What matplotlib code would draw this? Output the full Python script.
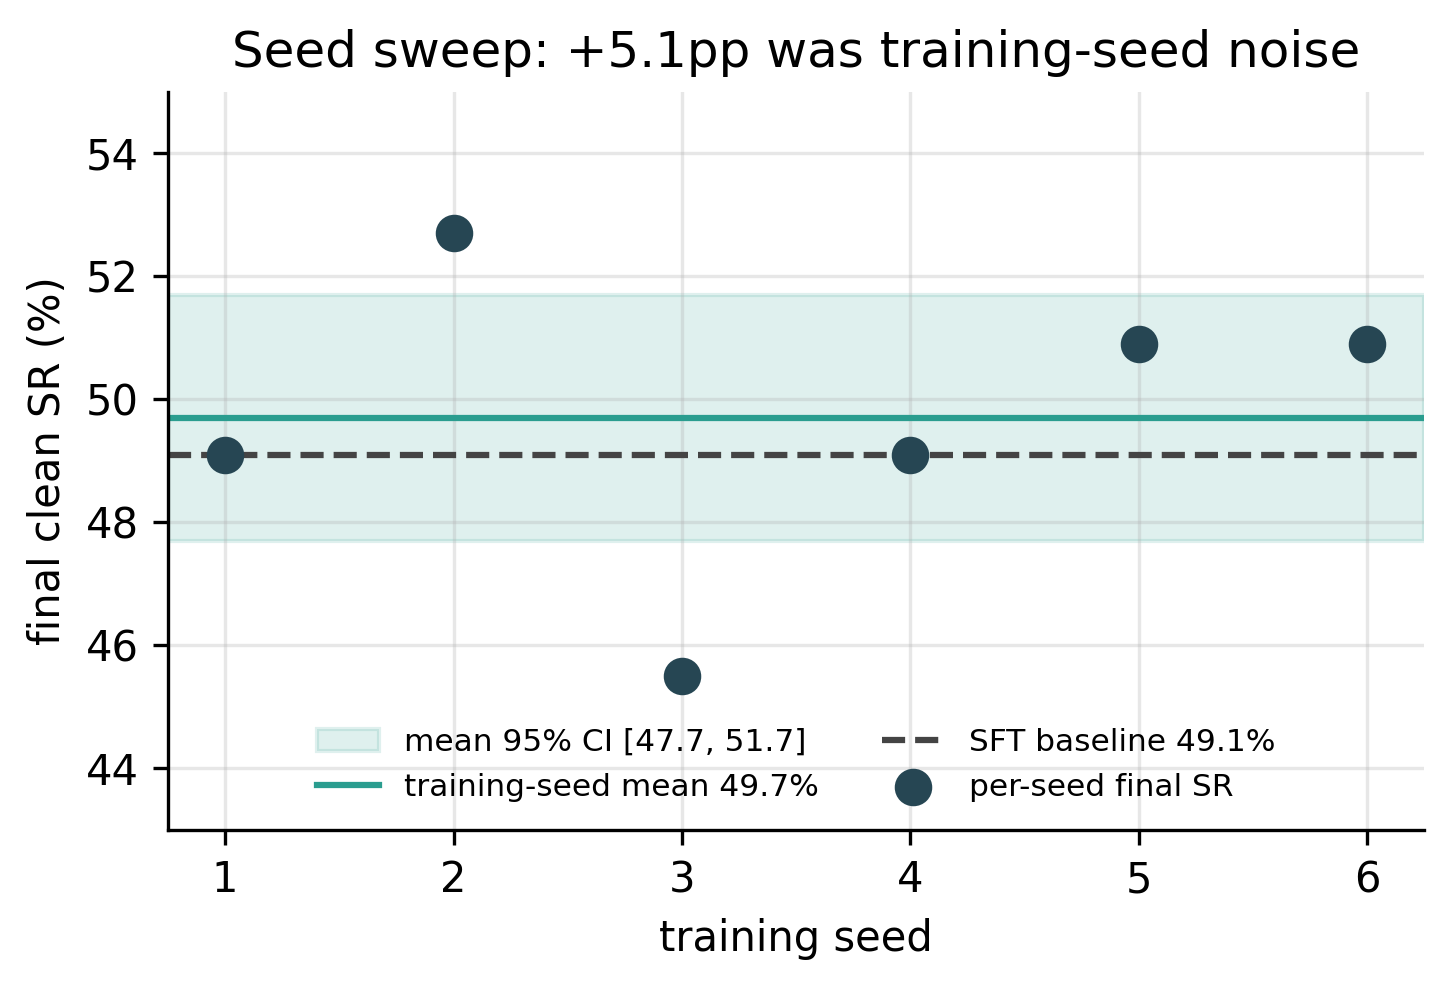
import matplotlib
matplotlib.use("Agg")
import matplotlib.pyplot as plt

# Datos: SR final por semilla de entrenamiento
seeds = [1, 2, 3, 4, 5, 6]
final_sr = [49.1, 52.7, 45.5, 49.1, 50.9, 50.9]
seed_mean = 49.7
ci_low, ci_high = 47.7, 51.7
sft_baseline = 49.1

fig, ax = plt.subplots(figsize=(4.85, 3.297), dpi=300)
fig.subplots_adjust(left=0.1155, right=0.979, top=0.907, bottom=0.161)

ax.axhspan(ci_low, ci_high, color='#2a9d8f', alpha=0.15,
           label=f'mean 95% CI [{ci_low}, {ci_high}]')
ax.axhline(seed_mean, color='#2a9d8f', lw=1.5,
           label=f'training-seed mean {seed_mean}%')
ax.axhline(sft_baseline, color='#444444', lw=1.5, ls='--',
           label=f'SFT baseline {sft_baseline}%')
ax.scatter(seeds, final_sr, s=64, color='#264653', zorder=3,
           label='per-seed final SR')

ax.set_xlim(0.75, 6.25)
ax.set_ylim(43, 55)
ax.set_xticks(seeds)
ax.set_yticks([44, 46, 48, 50, 52, 54])
ax.tick_params(labelsize=10)
ax.grid(alpha=0.3)
ax.spines['top'].set_visible(False)
ax.spines['right'].set_visible(False)

ax.set_title('Seed sweep: +5.1pp was training-seed noise', fontsize=12)
ax.set_xlabel('training seed', fontsize=10)
ax.set_ylabel('final clean SR (%)', fontsize=10)
ax.legend(loc='lower center', ncol=2, frameon=False, fontsize=7.5)

fig.savefig('out.png', dpi=300)
